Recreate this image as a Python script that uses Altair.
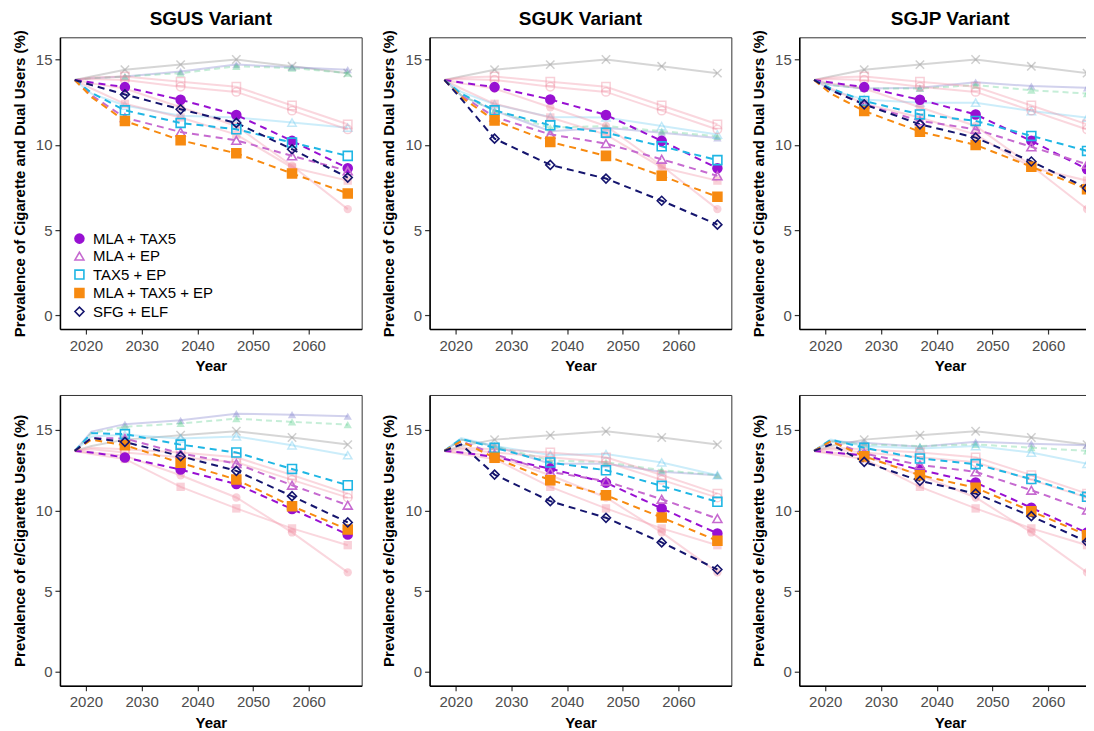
import altair as alt
import pandas as pd

# ---------------- data ----------------
YEARS = [2018, 2021, 2027, 2037, 2047, 2057, 2067]
X_TICKS = [2020, 2030, 2040, 2050, 2060]
Y_TICKS = [0, 5, 10, 15]
VARIANTS = ["SGUS", "SGUK", "SGJP"]
SERIES = ["MLA + TAX5", "MLA + EP", "TAX5 + EP", "MLA + TAX5 + EP", "SFG + ELF"]
COLORS = ["#9810D2", "#C66AD0", "#1FB6E4", "#F78A10", "#15156E"]
FILLS = ["#9810D2", "transparent", "transparent", "#F78A10", "transparent"]
SHAPES = ["circle", "triangle-up", "square", "square", "diamond"]

# highlighted series, order as SERIES; top row = cigarette and dual users
cig_SGUS = [
    [13.8, 13.65, 13.38, 12.64, 11.75, 10.23, 8.63],
    [13.8, 12.9, 11.59, 10.75, 10.26, 9.35, 8.47],
    [13.8, 13.05, 12.02, 11.28, 10.91, 10.13, 9.35],
    [13.8, 12.8, 11.40, 10.26, 9.50, 8.32, 7.15],
    [13.8, 13.5, 12.95, 12.08, 11.28, 9.74, 8.08],
]
cig_SGUK = [
    [13.8, 13.65, 13.38, 12.66, 11.75, 10.23, 8.63],
    [13.8, 12.9, 11.63, 10.61, 10.07, 9.15, 8.18],
    [13.8, 13.0, 12.02, 11.14, 10.71, 9.91, 9.10],
    [13.8, 12.8, 11.43, 10.17, 9.35, 8.18, 6.95],
    [13.8, 12.7, 10.36, 8.82, 8.02, 6.72, 5.32],
]
cig_SGJP = [
    [13.8, 13.65, 13.38, 12.64, 11.78, 10.23, 8.57],
    [13.8, 13.2, 12.37, 11.40, 10.91, 9.88, 8.86],
    [13.8, 13.3, 12.57, 11.78, 11.40, 10.52, 9.64],
    [13.8, 13.0, 11.98, 10.77, 9.99, 8.71, 7.40],
    [13.8, 13.2, 12.37, 11.20, 10.42, 9.02, 7.46],
]
# bottom row = e/cigarette users
ecig_SGUS = [
    [13.7, 13.6, 13.29, 12.54, 11.64, 10.09, 8.51],
    [13.7, 14.5, 14.47, 13.54, 12.92, 11.57, 10.33],
    [13.7, 14.8, 14.74, 14.09, 13.60, 12.58, 11.57],
    [13.7, 14.4, 14.05, 12.96, 11.92, 10.27, 8.82],
    [13.7, 14.5, 14.26, 13.37, 12.46, 10.89, 9.26],
]
ecig_SGUK = [
    [13.7, 13.6, 13.33, 12.60, 11.73, 10.13, 8.58],
    [13.7, 14.3, 13.50, 12.40, 11.82, 10.70, 9.50],
    [13.7, 14.45, 13.89, 12.98, 12.50, 11.53, 10.54],
    [13.7, 14.3, 13.27, 11.88, 10.95, 9.57, 8.12],
    [13.7, 14.1, 12.23, 10.58, 9.55, 8.02, 6.34],
]
ecig_SGJP = [
    [13.7, 13.6, 13.43, 12.52, 11.74, 10.17, 8.62],
    [13.7, 14.3, 13.54, 12.83, 12.40, 11.26, 10.02],
    [13.7, 14.4, 13.89, 13.23, 12.88, 11.95, 10.85],
    [13.7, 14.3, 13.36, 12.19, 11.41, 9.96, 8.47],
    [13.7, 14.1, 13.02, 11.84, 11.05, 9.65, 8.06],
]

# faded background scenarios shared within a row
cig_bg_gray_x = [13.8, 14.0, 14.4, 14.7, 15.0, 14.6, 14.2]
cig_bg_pink_open_sq = [13.8, 13.95, 14.0, 13.7, 13.4, 12.3, 11.2]
cig_bg_pink_open_ci = [13.8, 13.85, 13.8, 13.4, 13.1, 12.0, 10.9]
cig_bg_pink_fill_sq = [13.8, 13.3, 12.4, 11.6, 10.6, 8.67, 7.9]
cig_bg_pink_fill_ci = [13.8, 13.6, 13.3, 12.2, 11.1, 8.77, 6.23]
ecig_bg_gray_x = [13.7, 14.0, 14.4, 14.67, 14.92, 14.53, 14.09]
ecig_bg_pink_open_sq = [13.7, 13.9, 13.8, 13.6, 13.3, 12.2, 11.05]
ecig_bg_pink_open_ci = [13.7, 13.8, 13.6, 13.3, 13.0, 11.9, 10.8]
ecig_bg_pink_fill_sq = [13.7, 13.5, 13.2, 11.47, 10.13, 8.89, 7.85]
ecig_bg_pink_fill_ci = [13.7, 13.6, 13.4, 12.19, 10.81, 8.64, 6.16]

# faded background scenarios specific to each variant: lavender, mint, light blue
cig_bg_SGUS = [
    [13.8, 13.9, 14.0, 14.3, 14.7, 14.55, 14.4],
    [13.8, 13.9, 14.0, 14.2, 14.6, 14.5, 14.2],
    [13.8, 13.0, 12.3, 11.7, 11.6, 11.3, 11.0],
]
cig_bg_SGUK = [
    [13.8, 12.9, 12.0, 10.8, 11.0, 10.7, 10.4],
    [13.8, 12.9, 12.0, 11.0, 11.1, 10.8, 10.5],
    [13.8, 13.1, 12.37, 11.63, 11.6, 11.1, 10.6],
]
cig_bg_SGJP = [
    [13.8, 13.5, 13.3, 13.34, 13.67, 13.44, 13.34],
    [13.8, 13.5, 13.3, 13.3, 13.5, 13.2, 13.0],
    [13.8, 13.2, 12.66, 12.47, 12.47, 11.98, 11.59],
]
ecig_bg_SGUS = [
    [13.7, 14.9, 15.36, 15.6, 16.01, 15.95, 15.85],
    [13.7, 14.8, 15.2, 15.4, 15.7, 15.5, 15.33],
    [13.7, 14.6, 14.7, 14.47, 14.6, 14.05, 13.43],
]
ecig_bg_SGUK = [
    [13.7, 14.4, 14.0, 12.9, 12.9, 12.4, 12.19],
    [13.7, 14.4, 14.0, 13.1, 13.0, 12.5, 12.2],
    [13.7, 14.5, 14.0, 13.45, 13.5, 12.98, 12.19],
]
ecig_bg_SGJP = [
    [13.7, 14.3, 14.2, 13.95, 14.26, 14.15, 14.05],
    [13.7, 14.3, 14.1, 14.0, 14.1, 13.9, 13.7],
    [13.7, 14.4, 14.0, 13.85, 14.0, 13.6, 12.9],
]

X_DOMAIN = [2015.34, 2069.5]
Y_DOMAIN_TOP = [-0.8, 16.3]
Y_DOMAIN_BOTTOM = [-0.87, 17.17]
X_SHAPE = "M-1,-1L1,1M-1,1L1,-1"

LEGEND = alt.Legend(title=None, orient="none", legendX=12, legendY=194,
                    direction="vertical")

# ---------------- chart ----------------
def make_panel(hl_values, shared_bg, variant_bg, ytitle, ydom, title, height):
    x = alt.X("year:Q", scale=alt.Scale(domain=X_DOMAIN, nice=False, zero=False),
              axis=alt.Axis(values=X_TICKS, format="d", title="Year"))
    y = alt.Y("value:Q", scale=alt.Scale(domain=ydom, nice=False, zero=False),
              axis=alt.Axis(values=Y_TICKS, title=ytitle))

    bg_styles = [
        (shared_bg[0], "#8A8A8A", X_SHAPE, False, None),
        (variant_bg[0], "#7F7FCC", "triangle-up", True, None),
        (variant_bg[1], "#5CCF8F", "triangle-up", True, [6, 4]),
        (variant_bg[2], "#6CCAF0", "triangle-up", False, None),
        (shared_bg[1], "#F08CA0", "square", False, None),
        (shared_bg[2], "#F08CA0", "circle", False, None),
        (shared_bg[3], "#F08CA0", "square", True, None),
        (shared_bg[4], "#F08CA0", "circle", True, None),
    ]
    layers = []
    for vals, col, shp, filled, dash in bg_styles:
        d = pd.DataFrame({"year": YEARS, "value": vals})
        lk = dict(color=col, opacity=0.35, strokeWidth=2)
        if dash:
            lk["strokeDash"] = dash
        layers.append(alt.Chart(d).mark_line(**lk).encode(x=x, y=y))
        layers.append(
            alt.Chart(d).transform_filter(alt.datum.year >= 2027)
            .mark_point(shape=shp, filled=filled, color=col, opacity=0.4,
                        size=70, strokeWidth=1.5)
            .encode(x=x, y=y)
        )

    rows = []
    for s, vals in zip(SERIES, hl_values):
        for yr, v in zip(YEARS, vals):
            rows.append({"year": yr, "value": v, "series": s})
    hl = pd.DataFrame(rows)

    # line colours: same mapping, listed in reverse so its (hidden) legend stays separate
    line = alt.Chart(hl).mark_line(strokeWidth=2, strokeDash=[7, 5]).encode(
        x=x, y=y,
        color=alt.Color("series:N",
                        scale=alt.Scale(domain=SERIES[::-1], range=COLORS[::-1]),
                        legend=None),
    )
    pts = alt.Chart(hl).transform_filter(alt.datum.year >= 2027).mark_point(
        size=80, strokeWidth=1.6, opacity=1, fillOpacity=1
    ).encode(
        x=x, y=y,
        stroke=alt.Stroke("series:N", scale=alt.Scale(domain=SERIES, range=COLORS), legend=LEGEND),
        fill=alt.Fill("series:N", scale=alt.Scale(domain=SERIES, range=FILLS), legend=LEGEND),
        shape=alt.Shape("series:N", scale=alt.Scale(domain=SERIES, range=SHAPES), legend=LEGEND),
    )
    props = dict(width=302, height=height)
    if title:
        props["title"] = alt.Title(title, fontSize=19, fontWeight="bold", anchor="middle",
                                   offset=1)
    return alt.layer(*layers, line, pts).properties(**props)


CIG_Y = "Prevalence of Cigarette and Dual Users (%)"
ECIG_Y = "Prevalence of e/Cigarette Users (%)"
cig_sets = [cig_SGUS, cig_SGUK, cig_SGJP]
ecig_sets = [ecig_SGUS, ecig_SGUK, ecig_SGJP]
cig_bgs = [cig_bg_SGUS, cig_bg_SGUK, cig_bg_SGJP]
ecig_bgs = [ecig_bg_SGUS, ecig_bg_SGUK, ecig_bg_SGJP]
cig_shared = [cig_bg_gray_x, cig_bg_pink_open_sq, cig_bg_pink_open_ci, cig_bg_pink_fill_sq, cig_bg_pink_fill_ci]
ecig_shared = [ecig_bg_gray_x, ecig_bg_pink_open_sq, ecig_bg_pink_open_ci, ecig_bg_pink_fill_sq, ecig_bg_pink_fill_ci]

panels = []
for i, v in enumerate(VARIANTS):
    panels.append(make_panel(cig_sets[i], cig_shared, cig_bgs[i], CIG_Y, Y_DOMAIN_TOP,
                             f"{v} Variant", 292))
for i, v in enumerate(VARIANTS):
    panels.append(make_panel(ecig_sets[i], ecig_shared, ecig_bgs[i], ECIG_Y, Y_DOMAIN_BOTTOM,
                             None, 291))

chart = alt.concat(
    *panels, columns=3, spacing=alt.RowColnumber(row=66, column=68), bounds="flush"
).properties(
    padding={"left": 3, "top": 0, "right": -16, "bottom": 0}
).configure(
    font="Liberation Sans"
).configure_view(
    stroke="#333333", strokeWidth=1
).configure_axis(
    grid=False, domainColor="black", domainWidth=1.5, tickColor="#333333", tickSize=5,
    tickWidth=1.2, labelColor="#4D4D4D", labelFontSize=15, labelPadding=3,
    titleFontSize=15, titleFontWeight="bold", titleColor="black",
    labelFont="Liberation Sans", titleFont="Liberation Sans"
).configure_axisX(
    titlePadding=6, labelPadding=4
).configure_axisY(
    titlePadding=8
).configure_legend(
    labelFontSize=15, labelColor="black", labelFont="Liberation Sans", symbolSize=80,
    symbolStrokeWidth=1.6, rowPadding=1.5, padding=0, labelOffset=6
)

chart.save("out.html", embed_options={"renderer": "svg", "actions": False})
